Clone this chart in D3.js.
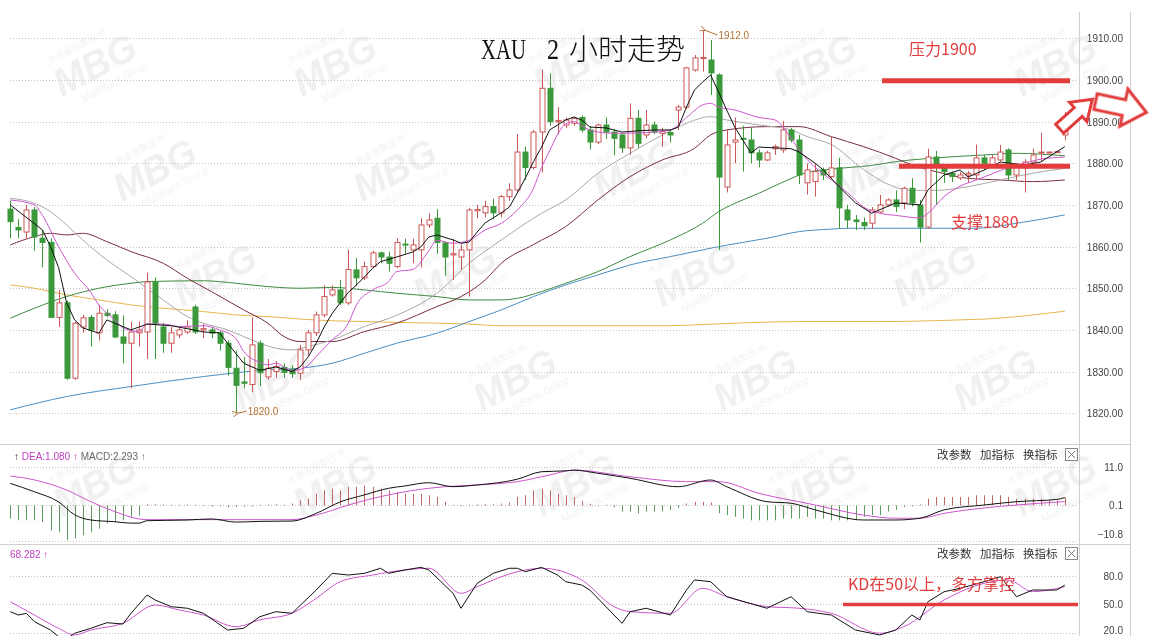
<!DOCTYPE html>
<html><head><meta charset="utf-8">
<script src="https://cdn.jsdelivr.net/npm/d3@7"></script>
<style>body{margin:0;background:#fff}svg{display:block}</style>
</head><body>
<svg id="c" width="1155" height="636"></svg>
<script>
// ---------- DATA ----------
const candleOpen=[1869,1864.6,1863.5,1868.8,1862,1861,1843,1846.5,1828.4,1840.7,
1843,1839.3,1844,1843.6,1838.3,1836.8,1839.3,1839.5,1851.5,1840.7,
1836.8,1838.8,1839.5,1845.5,1840,1840,1839.3,1836.8,1830.8,1827.5,
1826.9,1836.8,1828.7,1830,1831,1830.5,1829.6,1835.2,1839.3,1843.6,
1848.4,1849.6,1846.5,1854.4,1852.5,1855.2,1858.5,1857.5,1855.2,1860.6,
1859.2,1859.2,1865.2,1866.8,1860.9,1858,1857.5,1859.2,1868.6,1868.1,
1869.6,1868.1,1872,1873.6,1882.7,1879,1887.5,1898,1890,1889.2,
1889.6,1891,1888,1885.1,1889.2,1887.5,1886.8,1883.7,1890.8,1886.8,
1889.2,1887.2,1887.4,1892.8,1893.5,1902.4,1905.2,1904.8,1901.2,1874.3,
1885.1,1886,1885.6,1882.5,1880.8,1883.5,1883.2,1888,1885.6,1875.3,
1875.6,1878.4,1876.8,1878.9,1868.8,1866.4,1865.8,1865.6,1868.3,1870,
1871.2,1870.5,1874,1870,1864.7,1881.5,1878.9,1877.6,1876.5,1877.2,
1877.2,1881.3,1879.6,1880.8,1883.2,1877.2,1878.9,1880.3,1882.5,1882.7,
1882.7,1886.8];
const candleHigh=[1871,1866.6,1870,1869.5,1864,1862,1849.6,1847,1842,1843.6,
1843.6,1846,1845,1844.5,1843.5,1842,1842,1853.7,1852.6,1841.6,
1840.7,1840.7,1842.3,1846,1841.5,1840.7,1839.8,1837.5,1835,1833.5,
1843,1837.5,1833,1832.5,1832,1831.5,1836.4,1840,1844.4,1850.7,
1850.7,1852,1859.3,1857.3,1856.4,1859,1858.8,1858.8,1862,1861.9,
1861.9,1866.8,1868,1869,1861.2,1861.9,1860.5,1869.3,1870,1871,
1871.5,1872.4,1875.2,1887,1884,1888,1902.5,1901.6,1893.5,1891,
1891.2,1891.5,1889,1889.5,1891,1888.3,1887.2,1894.4,1892.8,1892.8,
1890,1888.5,1888,1894,1903.2,1906,1912,1909.6,1901.6,1888.2,
1891,1889,1888.5,1883.3,1883,1884.5,1890.2,1888.5,1886.8,1880,
1880,1879,1886.3,1881.3,1870,1867.6,1867,1869.5,1872.4,1871.6,
1873.5,1874.4,1876.4,1871.2,1883.5,1883,1879.5,1878,1878,1878.2,
1884.5,1882,1882,1884.4,1883.6,1880,1881,1883.5,1887.3,1882.8,
1882.8,1892.3];
const candleLow=[1862,1862,1862,1859,1855,1843,1840.7,1828,1828,1839.3,
1836,1837.5,1843,1838,1832,1826,1836,1833,1833,1834.5,
1834.5,1838,1839,1839,1838,1838,1835,1829,1820,1826,
1825,1826.5,1828,1828.5,1828.5,1828.5,1828,1834,1838.5,1843,
1848,1846,1846,1850.5,1852,1854.8,1856,1854,1854.8,1858.3,
1856,1855,1864.5,1858.3,1853,1852,1854.4,1848,1866.8,1867,
1866.6,1867,1871,1873,1876,1878.5,1877.8,1889,1887,1888.5,
1889,1887.4,1883.3,1884.6,1885.8,1882,1882.5,1882,1883.7,1886,
1887,1884,1885,1888,1893,1902,1902,1896.4,1859.2,1873,
1880,1878,1880,1879,1880.5,1882,1882.5,1885,1875,1872.5,
1872,1876,1876.5,1864.3,1864.4,1864,1864,1864.3,1868,1869.6,
1868.3,1869,1869.6,1861,1864.3,1870,1875.3,1875.5,1876,1875.3,
1876,1878.4,1879,1880.4,1876,1876,1873,1879.6,1880.5,1882.6,
1882.6,1885.6];
const candleClose=[1866,1864,1868.8,1862.3,1861,1843,1846.5,1828.4,1841.6,1842.9,
1840,1844,1843.5,1838.3,1836.8,1839.5,1840,1851.5,1841.6,1836.8,
1839.3,1840,1840.7,1839.5,1840.3,1839.2,1836.8,1831,1826.7,1827.2,
1836.4,1829.7,1830.8,1831.2,1829.8,1829.5,1835.2,1839.3,1843.6,1848,
1849.6,1846.5,1854.5,1852.5,1855.2,1858.5,1857.5,1856,1861,1860.4,
1860.4,1865.2,1866.4,1861,1857.5,1858.3,1859.2,1868.8,1868.9,1869.6,
1868.1,1872,1873.6,1882.7,1879,1887.5,1898,1890,1890.3,1890.4,
1890.8,1888,1885.1,1889.2,1887.5,1886,1883.7,1890.8,1884.8,1889.2,
1887.5,1887.6,1886.8,1893.5,1902.9,1905.3,1905.4,1901.7,1876.7,1884.4,
1885.6,1885.8,1882.5,1880.8,1882.5,1884,1888,1885.6,1877.2,1878.4,
1878,1877.2,1878.9,1869.3,1866.4,1866,1865,1868.8,1870,1871.2,
1869.6,1874,1870.5,1864.7,1881.5,1879.1,1878,1876.8,1877.2,1877.6,
1881.3,1880,1881.3,1882.7,1877.2,1879.6,1880.3,1882,1882.7,1882.7,
1882.8,1889.7];

// moving averages: [candle index, price]
const maBlack=[[0,1870],[4,1864],[5,1860],[6,1855],[7,1846.5],[8,1842.4],[9,1840.5],[11,1839.2],[12,1842.4],[13,1841.6],[15,1840],[17,1841.4],[20,1841],[22,1840.3],[24,1839.5],[26,1839.3],[27,1836.8],[28,1834.4],[29,1832],[31,1830.3],[33,1831.1],[35,1830],[36,1831.1],[37,1833.5],[38,1836.8],[39,1840.7],[40,1844],[41,1846.5],[42,1849],[43,1850.8],[44,1852.7],[45,1854.8],[46,1856.4],[48,1857.5],[50,1858.7],[51,1859.9],[52,1862.3],[53,1862.8],[55,1861.6],[56,1860.8],[57,1861.1],[58,1863.5],[59,1865.7],[60,1866.9],[61,1868.1],[62,1869.5],[63,1872.9],[64,1876.5],[65,1880.4],[66,1883.9],[67,1888],[68,1889.2],[69,1890.4],[70,1891.1],[71,1890.4],[72,1888.7],[74,1888.5],[76,1887.5],[78,1887.8],[80,1888],[82,1888],[83,1888.7],[84,1893.5],[85,1897.6],[86,1899.5],[87,1901.2],[88,1897.1],[89,1892.8],[90,1888.7],[91,1885.6],[92,1882.5],[93,1883.9],[95,1883.7],[97,1883.5],[98,1882.7],[100,1880],[101,1878.4],[103,1874.3],[105,1870.5],[107,1868],[110,1870.5],[113,1870],[114,1873.6],[116,1877.2],[118,1878.4],[119,1876.7],[121,1878.4],[123,1880.3],[126,1879.6],[128,1880.3],[131,1884]];
const maPink=[[0,1871.2],[3,1870],[4,1867.5],[6,1860],[8,1853.6],[10,1849],[11,1846],[13,1842.4],[14,1840.5],[16,1839.6],[17,1841.4],[19,1841.4],[21,1840.8],[24,1841],[26,1840],[28,1838],[29,1834.8],[31,1832.2],[32,1831.6],[33,1832],[35,1830.2],[36,1830.5],[37,1831.5],[38,1833.6],[40,1837.6],[42,1841.6],[43,1846],[45,1849.6],[47,1851.6],[48,1854],[50,1854.5],[52,1859],[53,1861.5],[55,1860.8],[57,1861.5],[59,1864],[61,1865.6],[63,1868.8],[65,1874],[66,1879],[67,1883],[68,1887],[69,1889.5],[70,1890],[71,1889],[72,1888],[74,1887.3],[76,1887.2],[78,1887.3],[80,1887.5],[82,1888],[84,1891],[86,1894],[87,1894.4],[88,1893.5],[90,1892.8],[93,1891],[95,1890.4],[97,1886],[98,1883.2],[100,1879],[102,1876],[104,1873],[106,1869.5],[108,1868],[110,1867.5],[113,1866.9],[114,1868],[116,1872],[118,1874.5],[120,1876],[122,1877.5],[124,1879],[126,1880],[128,1881],[131,1881.5]];
const maGrey=[[0,1871.6],[3,1870.4],[5,1868.4],[7,1865.2],[9,1861.6],[12,1856.8],[15,1852.8],[19,1847.2],[22,1843.2],[24,1841.6],[27,1840],[29,1838.4],[31,1836.8],[33,1835.6],[35,1835.2],[37,1836],[40,1837.6],[44,1840.8],[48,1843.5],[53,1848.8],[57,1856],[61,1861.6],[66,1868],[69,1871.2],[73,1877.6],[77,1882.4],[81,1886.8],[84,1889.6],[87,1891.2],[89,1890.4],[93,1889.2],[97,1888],[99,1886.4],[102,1884.5],[106,1878.5],[109,1875],[112,1873.5],[115,1873.5],[119,1874.4],[123,1876],[127,1877.6],[131,1878.8]];
const maBrown=[[0,1860.4],[3,1862.4],[5,1863.2],[7,1862.8],[9,1863.2],[12,1861.2],[15,1858.8],[19,1856],[22,1852.4],[25,1849.2],[29,1844.8],[32,1841.6],[34,1838.4],[36,1837.2],[40,1837.2],[44,1839.6],[48,1841.6],[53,1845.6],[56,1848],[59,1852],[61,1856],[65,1860.5],[69,1864.8],[73,1871.2],[77,1876.8],[81,1880.8],[85,1883.6],[87,1886.8],[89,1888],[94,1888.8],[98,1888.8],[102,1886.4],[106,1884],[110,1881.2],[112,1879.6],[115,1878],[119,1876.4],[123,1876],[127,1875.6],[131,1876]];
const maGreen=[[0,1842.8],[3,1845.2],[7,1848],[11,1850],[15,1851.2],[17,1851.6],[24,1851.8],[28,1851.2],[32,1850.4],[36,1850],[40,1850.2],[44,1849.6],[48,1848.8],[53,1848],[57,1847.2],[61,1847.2],[63,1847.6],[66,1849.2],[69,1851.2],[73,1854],[77,1857.6],[82,1861.6],[86,1865.6],[88,1868.4],[91,1871.2],[93,1872.8],[96,1875.5],[99,1877.8],[102,1878.6],[107,1879.5],[110,1880.4],[115,1881.3],[121,1882],[125,1882.4],[131,1881.8]];
const maBlue=[[0,1820.8],[7,1824],[15,1826.4],[24,1828.8],[32,1830.4],[36,1830.8],[40,1832],[44,1834.4],[48,1836.8],[53,1839.2],[57,1842],[61,1844.8],[65,1848],[69,1850.8],[73,1853.2],[77,1855.6],[82,1857.6],[86,1859.2],[88,1860],[94,1862],[98,1863.6],[102,1864.2],[104,1864.4],[112,1864.4],[120,1864.4],[125,1865.6],[131,1867.6]];
const maOrange=[[0,1850.8],[3,1850],[7,1848.4],[11,1847.2],[15,1846],[19,1845.2],[24,1844.4],[28,1843.6],[32,1843.2],[36,1842.6],[40,1842.2],[44,1842],[48,1841.8],[57,1841.4],[61,1841],[82,1841],[86,1841.3],[98,1842],[108,1842],[118,1842.4],[121,1842.6],[131,1844.5]];

// MACD panel
const macdHist=[-3.8,-4.3,-4.3,-4.3,-4.8,-7.2,-7.7,-10,-9.5,-8.6,
-7.7,-6.7,-5.2,-4.8,-4.3,-3.3,-2.9,0.4,0.3,0.3,
0.2,0.2,0.3,0.2,-0.2,-0.4,-0.3,-0.6,-0.5,-0.4,
-0.3,0.2,0.3,0.3,0.2,0.5,1.4,1.9,3.4,4.3,
4.8,4.3,5.3,5.3,5.7,5.3,4.8,4.3,3.8,3.3,
3.3,3.3,2.9,2.4,1.0,0.2,-0.3,0.2,0.3,0.4,
0.3,0.5,0.8,2.4,2.9,4.3,4.8,4.3,3.3,2.9,
2.4,1.2,0.4,-0.3,0.2,-0.6,-1.8,-1.8,-2.3,-1.8,
-1.8,-1.8,-1.3,-0.8,0.5,1.0,1.0,0.8,-2.3,-2.8,
-3.3,-3.8,-4.3,-4.3,-4.3,-4.3,-3.8,-3.8,-3.8,-3.3,
-3.8,-3.8,-4.3,-4.3,-4.3,-4.3,-3.3,-2.8,-2.8,-1.8,
-1.3,-0.5,-0.3,0.3,1.9,2.4,2.4,2.4,2.4,2.4,
2.9,2.9,2.9,2.9,2.4,1.9,1.9,1.9,1.9,1.4,
1.4,2.29];
const macdDif=[[0,6.3],[3,3.9],[6,1.0],[8,-2.7],[10,-4.2],[13,-4.7],[15,-5.1],[16,-5.1],[17,-4.4],[22,-4.2],[25,-3.9],[28,-4.8],[31,-4.6],[35,-4.5],[38,-2.3],[41,1.0],[44,3.0],[47,4.9],[49,5.55],[52,6.5],[55,5.35],[58,5.85],[63,7.5],[66,9.65],[69,9.9],[70,10.1],[73,9.2],[77,7.76],[83,5.35],[87,7.27],[89,5.35],[94,1.05],[97,0.6],[100,-1.3],[106,-4.2],[110,-4.2],[113,-3.7],[116,-1.3],[121,0.1],[125,1.05],[130,1.7],[131,2.23]];
const macdDea=[[0,8.4],[3,7.3],[7,4.4],[10,1.05],[13,-1.8],[16,-3.9],[17,-4.1],[35,-4.1],[38,-2.8],[42,0.1],[47,3.0],[52,4.9],[54,5.35],[58,5.85],[63,6.8],[67,8.7],[70,10.1],[77,8.2],[84,6.8],[88,6.8],[93,3.45],[100,0.1],[106,-2.8],[110,-3.7],[113,-3.7],[116,-2.3],[121,-0.75],[125,0.1],[131,1.08]];
const macdTicks=[11.0,0.1,-10.8];

// KD panel
const kdK=[[0,41.9],[1,38.4],[2,40.2],[3,31.4],[5,22.6],[6,15.6],[7,13],[8,19.2],[10,24.4],[12,30.3],[14,28.9],[15,40.2],[17,59.5],[18,54.2],[20,47.2],[22,45.5],[24,40.2],[27,22.6],[29,24.4],[31,36.6],[33,41.9],[35,40.2],[38,64.7],[40,82.3],[42,80.5],[44,82.3],[46,87.6],[47,82.3],[49,85.8],[51,88.6],[52,85.8],[55,61.3],[56,45.5],[58,71.8],[60,82.3],[62,87.6],[63,87.6],[64,84],[66,88.6],[68,80.5],[69,73.5],[71,70],[72,64.7],[76,29.7],[77,41.9],[79,45.5],[82,38.4],[84,64.7],[85,75.3],[87,73.5],[89,57.7],[94,45.5],[97,57.7],[99,41.9],[102,38.4],[105,22.6],[108,17.4],[110,22.6],[112,38.4],[113,33.2],[114,52.4],[116,62.9],[118,66.5],[121,73.5],[123,78.7],[125,57.7],[127,64.7],[130,64.7],[131,70]];
const kdD=[[0,52.4],[3,38.4],[6,24.4],[8,17.4],[10,22.6],[14,29.7],[18,48.9],[21,43.7],[24,38.4],[28,26.1],[31,33.2],[35,40.2],[38,56],[41,73.5],[45,80.5],[49,85.8],[52,87.6],[56,61.3],[58,68.2],[63,84],[66,87.6],[71,75.3],[75,47.2],[77,41.9],[82,40.2],[86,66.5],[89,57.7],[94,47.2],[98,45.5],[102,40.2],[108,19.2],[111,26.1],[116,54.2],[121,71.8],[124,75.3],[127,63],[131,68.28]];
const kdTicks=[80,50,20];

const priceTicks=[1910,1900,1890,1880,1870,1860,1850,1840,1830,1820];
const highMark={i:86,v:1912.0}, lowMark={i:28,v:1820.0};
const resistLevel=1900, supportLine=1879.3;

// ---------- SCALES ----------
const svg=d3.select("#c");
const x=d3.scaleLinear().domain([0,131]).range([10.25,1064.8]);
const yP=d3.scaleLinear().domain([1820,1910]).range([413.2,38.35]);
const yM=d3.scaleLinear().domain([0.1,11]).range([505,467]);
const yK=d3.scaleLinear().domain([20,80]).range([632.5,575.5]);

const RED="#cc5656", GRN="#3a993a", ANN="#e23c3c";
const defs=svg.append("defs");
function clip(id,y0,y1){defs.append("clipPath").attr("id",id).append("rect").attr("x",0).attr("y",y0).attr("width",1079).attr("height",y1-y0);}
clip("cm",10,444);clip("cd",445,544);clip("ck",545,636);

// ---------- WATERMARKS ----------
const wm=svg.append("g").attr("fill","#000").attr("opacity",0.06);
for(let r=0;r<6;r++)for(let k=-1;k<6;k++){
  const cx=95+60*r+240*k, cy=65+105*r;
  if(cx<62||cx>1085||cy>560)continue;
  const g=wm.append("g").attr("transform",`translate(${cx},${cy}) rotate(-28)`);
  g.append("text").text("MBG").attr("text-anchor","middle").attr("y",13).style("font","italic bold 38px 'Liberation Sans'");
  g.append("text").text("MultiBank Group").attr("text-anchor","middle").attr("x",10).attr("y",28).style("font","10px 'Liberation Sans'");
  g.append("text").text("大通金融集团 州").attr("x",-40).attr("y",-22).style("font","9px 'Noto Sans CJK SC'");
}

// ---------- FRAME & GRID ----------
const frame=svg.append("g").attr("stroke","#cfcfcf").attr("fill","none");
frame.append("line").attr("x1",1079.5).attr("x2",1079.5).attr("y1",12).attr("y2",636);
frame.append("line").attr("x1",1130.5).attr("x2",1130.5).attr("y1",12).attr("y2",636);
frame.append("line").attr("x1",0).attr("x2",1130).attr("y1",444.5).attr("y2",444.5);
frame.append("line").attr("x1",0).attr("x2",1130).attr("y1",544.5).attr("y2",544.5);

const grid=svg.append("g").attr("stroke","#c4c4c4").attr("stroke-dasharray","1,2");
priceTicks.forEach(v=>grid.append("line").attr("x1",10).attr("x2",1078).attr("y1",Math.round(yP(v))+0.5).attr("y2",Math.round(yP(v))+0.5));
[11.0,0.1].forEach(v=>grid.append("line").attr("x1",10).attr("x2",1078).attr("y1",Math.round(yM(v))+0.5).attr("y2",Math.round(yM(v))+0.5));
grid.append("line").attr("x1",10).attr("x2",1078).attr("y1",541.5).attr("y2",541.5);
kdTicks.forEach(v=>grid.append("line").attr("x1",10).attr("x2",1078).attr("y1",Math.round(yK(v))+0.5).attr("y2",Math.round(yK(v))+0.5));

// ---------- AXES ----------
function rightAxis(scale,ticks,fmt,dyFn){
  const g=svg.append("g").attr("transform","translate(1123,0)")
    .call(d3.axisRight(scale).tickValues(ticks).tickFormat(fmt).tickSize(0).tickPadding(0));
  g.select(".domain").remove();
  g.selectAll("text").attr("text-anchor","end").attr("x",0).attr("fill","#444")
    .style("font","10px 'Liberation Sans'").attr("dy",d=>dyFn?dyFn(d):"0.35em");
}
rightAxis(yP,priceTicks,d3.format(".2f"));
rightAxis(yM,macdTicks,d3.format(".1f"),d=>d<-10?"-0.6em":"0.35em");
rightAxis(yK,kdTicks,d3.format(".1f"),d=>d<30?"0.1em":"0.35em");

// ---------- MAIN: MAs ----------
const main=svg.append("g").attr("clip-path","url(#cm)");
function maLine(data,color,curve){
  main.append("path").datum(data).attr("fill","none").attr("stroke",color).attr("stroke-width",1)
    .attr("d",d3.line().x(d=>x(d[0])).y(d=>yP(d[1])).curve(curve||d3.curveMonotoneX));
}
maLine(maOrange,"#e7b54a");
maLine(maBlue,"#4a8fc4");
maLine(maGreen,"#3f8a3f");
maLine(maBrown,"#7a2e3e");
maLine(maGrey,"#a8a8a8");

// ---------- MAIN: CANDLES ----------
const idx=d3.range(candleOpen.length);
const bw=5;
const cg=main.append("g");
idx.forEach(i=>{
  const up=candleClose[i]>=candleOpen[i];
  const col=up?RED:GRN;
  const cx=Math.round(x(i))+0.5;
  cg.append("line").attr("x1",cx).attr("x2",cx).attr("y1",yP(candleHigh[i])).attr("y2",yP(candleLow[i])).attr("stroke",col);
  const y0=yP(Math.max(candleOpen[i],candleClose[i])), y1=yP(Math.min(candleOpen[i],candleClose[i]));
  cg.append("rect").attr("x",cx-bw/2).attr("y",y0).attr("width",bw).attr("height",Math.max(1,y1-y0))
    .attr("fill",up?"#fff":col).attr("stroke",col).attr("stroke-width",1);
});
maLine(maPink,"#cc55cc");
maLine(maBlack,"#111",d3.curveLinear);

// high/low marks
const mk="#b87333";
defs.append("marker").attr("id","ah").attr("viewBox","0 0 8 8").attr("refX",1).attr("refY",4).attr("markerWidth",6).attr("markerHeight",6).attr("orient","auto")
  .append("path").attr("d","M8,0 L0,4 L8,8").attr("fill","none").attr("stroke",mk).attr("stroke-width",1.2);
svg.append("line").attr("x1",x(highMark.i)+15).attr("y1",yP(highMark.v)+5).attr("x2",x(highMark.i)+2).attr("y2",yP(highMark.v)).attr("stroke",mk).attr("marker-end","url(#ah)");
svg.append("text").attr("x",x(highMark.i)+16).attr("y",yP(highMark.v)+9).text(highMark.v.toFixed(1)).attr("fill",mk).style("font","10px 'Liberation Sans'");
svg.append("line").attr("x1",x(lowMark.i)+11).attr("y1",yP(lowMark.v)-2).attr("x2",x(lowMark.i)+2).attr("y2",yP(lowMark.v)).attr("stroke",mk).attr("marker-end","url(#ah)");
svg.append("text").attr("x",x(lowMark.i)+12).attr("y",yP(lowMark.v)+2).text(lowMark.v.toFixed(1)).attr("fill",mk).style("font","10px 'Liberation Sans'");

// ---------- MACD ----------
const md=svg.append("g").attr("clip-path","url(#cd)");
idx.forEach(i=>{
  const v=macdHist[i];
  md.append("line").attr("x1",Math.round(x(i))+0.5).attr("x2",Math.round(x(i))+0.5)
    .attr("y1",yM(0)).attr("y2",yM(v)).attr("stroke",v>=0?"#c06464":"#5a9a5a").attr("stroke-width",1);
});
md.append("path").datum(macdDea).attr("fill","none").attr("stroke","#cc55cc").attr("d",d3.line().x(d=>x(d[0])).y(d=>yM(d[1])).curve(d3.curveMonotoneX));
md.append("path").datum(macdDif).attr("fill","none").attr("stroke","#111").attr("d",d3.line().x(d=>x(d[0])).y(d=>yM(d[1])).curve(d3.curveMonotoneX));

// ---------- KD ----------
const kd=svg.append("g").attr("clip-path","url(#ck)");
kd.append("path").datum(kdD).attr("fill","none").attr("stroke","#cc55cc").attr("d",d3.line().x(d=>x(d[0])).y(d=>yK(d[1])).curve(d3.curveMonotoneX));
kd.append("path").datum(kdK).attr("fill","none").attr("stroke","#111").attr("d",d3.line().x(d=>x(d[0])).y(d=>yK(d[1])).curve(d3.curveLinear));

// ---------- PANEL HEADERS ----------
const hf="10px 'Liberation Sans'";
const h1=svg.append("text").attr("x",14).attr("y",460).style("font",hf);
h1.append("tspan").text("↑ ").attr("fill","#222");
h1.append("tspan").text("DEA:1.080 ↑ ").attr("fill","#c040c0");
h1.append("tspan").text("MACD:2.293 ↑").attr("fill","#666");
svg.append("text").attr("x",10).attr("y",558).text("68.282 ↑").attr("fill","#c040c0").style("font",hf);
[459,558].forEach(yb=>{
  [["改参数",937],["加指标",980],["换指标",1023]].forEach(([t,xx])=>svg.append("text").attr("x",xx).attr("y",yb).text(t).attr("fill","#333").style("font","11.5px 'Noto Sans CJK SC'"));
  svg.append("rect").attr("x",1065.5).attr("y",yb-10.5).attr("width",12).attr("height",12).attr("fill","#fff").attr("stroke","#888");
  svg.append("path").attr("d",`M1068,${yb-8} L1075,${yb-1} M1075,${yb-8} L1068,${yb-1}`).attr("stroke","#777");
});

// ---------- ANNOTATIONS ----------
svg.append("text").attr("x",481).attr("y",59).text("XAU").attr("textLength",45).attr("lengthAdjust","spacingAndGlyphs").attr("fill","#111").style("font","30px 'Liberation Serif'");
svg.append("text").attr("x",547).attr("y",59).text("2").attr("textLength",12).attr("lengthAdjust","spacingAndGlyphs").attr("fill","#111").style("font","30px 'Liberation Serif'");
svg.append("text").attr("x",569).attr("y",60).text("小时走势").attr("fill","#111").style("font","300 29px 'Noto Sans CJK SC'");

svg.append("line").attr("x1",882).attr("x2",1070).attr("y1",yP(resistLevel)+0.8).attr("y2",yP(resistLevel)+0.8).attr("stroke",ANN).attr("stroke-width",5);
svg.append("text").attr("x",909).attr("y",55).text("压力1900").attr("fill",ANN).style("font","16px 'Noto Sans CJK SC'");
svg.append("line").attr("x1",899).attr("x2",1070).attr("y1",yP(supportLine)).attr("y2",yP(supportLine)).attr("stroke",ANN).attr("stroke-width",5);
svg.append("text").attr("x",951).attr("y",228).text("支撑1880").attr("fill",ANN).style("font","16px 'Noto Sans CJK SC'");
svg.append("line").attr("x1",843).attr("x2",1078).attr("y1",yK(50)+0.5).attr("y2",yK(50)+0.5).attr("stroke",ANN).attr("stroke-width",3.5);
svg.append("text").attr("x",848).attr("y",590).text("KD在50以上，多方掌控").attr("fill",ANN).style("font","16px 'Noto Sans CJK SC'");

function blockArrow(cx,cy,ang,L,s,h,hl){
  const a=L/2;
  svg.append("path").attr("d",`M${-a},${-s} L${a-hl},${-s} L${a-hl},${-h} L${a},0 L${a-hl},${h} L${a-hl},${s} L${-a},${s} Z`)
    .attr("transform",`translate(${cx},${cy}) rotate(${ang})`).attr("fill","#fff").attr("stroke",ANN).attr("stroke-width",3).attr("stroke-linejoin","miter");
}
blockArrow(1076,114,-42,44,6,13,19);
blockArrow(1121,107,12,52,8,19,23);
</script>
</body></html>
